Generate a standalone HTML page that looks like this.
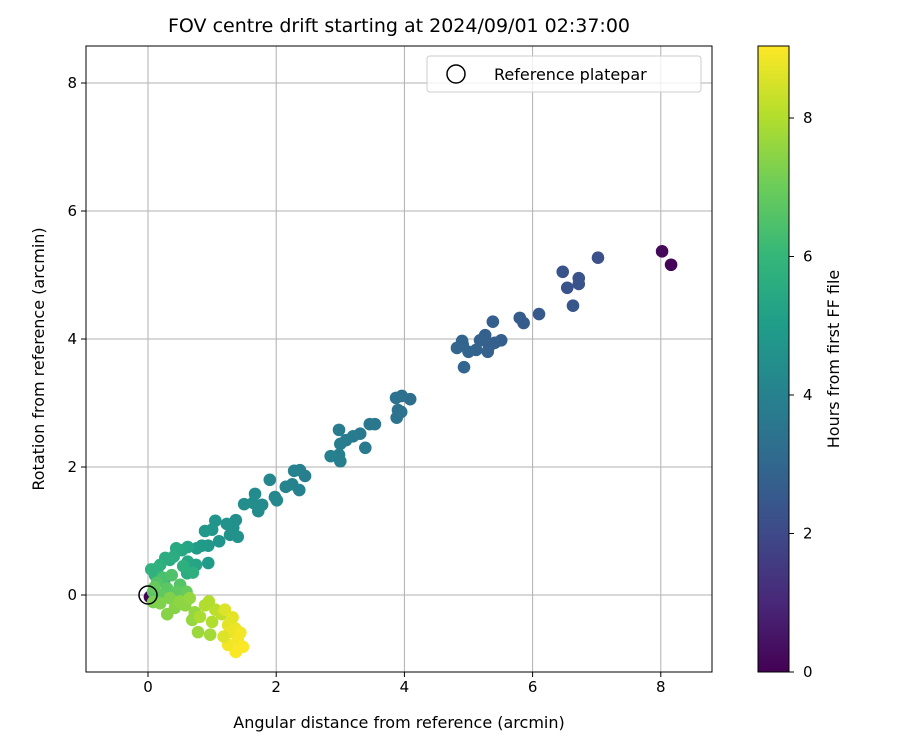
<!DOCTYPE html>
<html><head><meta charset="utf-8"><style>
body{margin:0;background:#fff;font-family:"Liberation Sans","DejaVu Sans",sans-serif}
svg text{font-family:"DejaVu Sans","Liberation Sans",sans-serif;fill:#000}
</style></head><body>
<svg id="c" width="900" height="750" xmlns="http://www.w3.org/2000/svg"></svg>
<script>
const xs=[8.02,8.16,0.03,7.02,6.47,6.54,6.63,6.72,6.72,6.10,5.80,5.86,5.51,5.38,5.26,5.18,5.32,5.12,5.00,4.91,4.90,4.82,4.93,5.41,5.30,
4.09,3.96,3.87,3.90,3.88,3.95,3.54,3.46,3.39,3.31,3.20,3.09,3.00,2.98,3.00,2.98,2.85,
2.45,2.37,2.28,2.36,2.25,2.15,1.98,1.90,2.01,1.78,1.72,1.67,1.64,1.50,
1.37,1.33,1.28,1.40,1.23,1.05,1.11,1.00,0.89,0.94,0.84,0.76,0.94,
0.62,0.53,0.44,0.34,0.27,0.62,0.75,0.61,0.19,0.11,0.05,0.15,0.25,0.40,0.55,0.70,
0.23,0.37,0.50,0.14,0.08,0.30,0.45,0.20,0.10,0.60,
0.08,0.19,0.34,0.42,0.58,0.73,0.69,0.78,0.97,0.30,0.50,0.65,
0.89,1.05,1.00,0.81,1.15,0.95,
1.25,1.36,1.40,1.48,1.37,1.25,1.20,1.28,1.44,1.32,1.18];
const ys=[5.37,5.16,-0.03,5.27,5.05,4.80,4.52,4.95,4.86,4.39,4.33,4.25,3.98,4.27,4.06,3.98,3.88,3.83,3.80,3.91,3.97,3.86,3.56,3.94,3.80,
3.06,3.11,3.08,2.89,2.77,2.86,2.67,2.67,2.30,2.52,2.48,2.42,2.36,2.58,2.09,2.19,2.17,
1.86,1.95,1.94,1.64,1.73,1.69,1.53,1.80,1.48,1.41,1.31,1.58,1.44,1.42,
1.17,1.05,0.94,0.91,1.11,1.16,0.84,1.02,1.00,0.77,0.77,0.73,0.50,
0.75,0.70,0.73,0.55,0.58,0.52,0.47,0.34,0.47,0.31,0.40,0.42,0.20,0.60,0.45,0.35,
0.27,0.31,0.16,0.19,0.05,0.10,0.05,0.00,0.12,0.05,
-0.11,-0.13,-0.05,-0.20,-0.16,-0.27,-0.39,-0.58,-0.62,-0.30,-0.10,-0.05,
-0.16,-0.23,-0.42,-0.34,-0.30,-0.10,
-0.47,-0.52,-0.70,-0.81,-0.89,-0.78,-0.23,-0.58,-0.59,-0.35,-0.65];
const hs=[0.2,0.1,0.05,2.2,2.3,2.3,2.4,2.3,2.35,2.5,2.6,2.6,2.7,2.7,2.75,2.8,2.8,2.85,2.9,2.9,2.9,2.95,2.95,2.7,2.8,
3.3,3.35,3.4,3.4,3.45,3.4,3.6,3.65,3.7,3.7,3.75,3.8,3.85,3.8,3.9,3.9,3.95,
3.9,3.95,4.0,4.0,4.05,4.1,4.2,4.2,4.25,4.3,4.35,4.35,4.4,4.45,
4.5,4.55,4.6,4.6,4.6,4.7,4.7,4.75,4.8,4.8,4.9,4.95,4.9,
5.3,5.4,5.45,5.55,5.6,5.4,5.3,5.6,5.7,5.8,5.8,5.8,6.0,5.6,5.7,5.7,
6.4,6.5,6.6,6.6,6.7,6.7,6.8,6.8,6.9,6.9,
7.2,7.3,7.3,7.4,7.5,7.6,7.6,7.7,7.8,7.4,7.5,7.6,
8.0,8.1,8.0,7.9,8.2,8.0,
8.7,8.8,8.9,9.0,9.0,8.9,8.6,8.8,8.9,8.7,8.6];
const xTicks=[0,2,4,6,8], yTicks=[0,2,4,6,8], cTicks=[0,2,4,6,8];
const X0=86,X1=712,Y0=46,Y1=672;
const xv=v=>148+v*64.1, yv=v=>595-v*64;
const HMAX=9.04, cy=v=>672-v*(626/HMAX);
const vir=[[68,1,84],[72,40,120],[62,74,137],[49,104,142],[38,130,142],[31,158,137],[53,183,121],[109,205,89],[180,222,44],[253,231,37]];
function col(h){let t=Math.max(0,Math.min(1,h/HMAX))*9,i=Math.min(8,Math.floor(t)),f=t-i;
const a=vir[i],b=vir[i+1];return`rgb(${a.map((v,k)=>Math.round(v+(b[k]-v)*f)).join(',')})`;}
const s=document.getElementById('c');const NS='http://www.w3.org/2000/svg';
function el(t,at,p){const e=document.createElementNS(NS,t);for(const k in at)e.setAttribute(k,at[k]);(p||s).appendChild(e);return e;}
let g;
xTicks.forEach(v=>{g=el('line',{x1:xv(v),x2:xv(v),y1:Y0,y2:Y1,stroke:'#b0b0b0','stroke-width':1});

el('line',{x1:xv(v),x2:xv(v),y1:Y1,y2:Y1+5,stroke:'#000'});
g=el('text',{x:xv(v),y:Y1+20,'text-anchor':'middle','font-size':15});g.textContent=v;
});
yTicks.forEach(v=>{g=el('line',{x1:X0,x2:X1,y1:yv(v),y2:yv(v),stroke:'#b0b0b0','stroke-width':1});

el('line',{x1:X0-5,x2:X0,y1:yv(v),y2:yv(v),stroke:'#000'});
g=el('text',{x:X0-9,y:yv(v)+5,'text-anchor':'end','font-size':15});g.textContent=v;
});
xs.forEach((x,i)=>{g=el('circle',{cx:xv(x),cy:yv(ys[i]),r:6.3,fill:col(hs[i])});
});
g=el('circle',{cx:xv(0),cy:yv(0),r:9,fill:'none',stroke:'#000','stroke-width':1.5});

g=el('rect',{x:X0,y:Y0,width:X1-X0,height:Y1-Y0,fill:'none',stroke:'#000','stroke-width':1});

g=el('rect',{x:427,y:56,width:274,height:36,rx:3,fill:'#fff','fill-opacity':0.8,stroke:'#ccc'});

el('circle',{cx:456,cy:74,r:9,fill:'none',stroke:'#000','stroke-width':1.5});
g=el('text',{x:494,y:80,'font-size':16});g.textContent='Reference platepar';

g=el('text',{x:399,y:32,'text-anchor':'middle','font-size':19});g.textContent='FOV centre drift starting at 2024/09/01 02:37:00';

g=el('text',{x:399,y:728,'text-anchor':'middle','font-size':16});g.textContent='Angular distance from reference (arcmin)';

g=el('text',{x:0,y:0,'text-anchor':'middle','font-size':16,transform:'translate(44,359) rotate(-90)'});g.textContent='Rotation from reference (arcmin)';

const defs=el('defs',{});const lg=el('linearGradient',{id:'vg',x1:0,y1:1,x2:0,y2:0},defs);
vir.forEach((c,i)=>el('stop',{offset:i/9,'stop-color':`rgb(${c.join(',')})`},lg));
g=el('rect',{x:758,y:46,width:31,height:626,fill:'url(#vg)',stroke:'#000','stroke-width':1});

cTicks.forEach(v=>{el('line',{x1:789,x2:794,y1:cy(v),y2:cy(v),stroke:'#000'});
g=el('text',{x:803,y:cy(v)+5,'font-size':15});g.textContent=v;
});
g=el('text',{x:0,y:0,'text-anchor':'middle','font-size':16,transform:'translate(839,359) rotate(-90)'});g.textContent='Hours from first FF file';

</script></body></html>
